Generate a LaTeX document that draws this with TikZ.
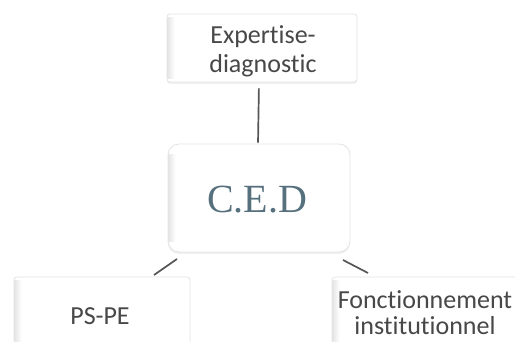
\documentclass[tikz,border=0pt]{standalone}
\usepackage{fontspec}
\setmainfont{Carlito}[Ligatures={NoCommon,NoRare,NoDiscretionary}]
\newfontfamily\cedfont{Liberation Serif}
\usetikzlibrary{shadows}
\definecolor{txt}{HTML}{484848}
\definecolor{cedc}{HTML}{56707E}
\definecolor{lnc}{HTML}{555555}
\tikzset{
  box/.style={draw=gray!22, line width=0.8pt, fill=white, inner sep=0pt,
    drop shadow={opacity=0.12, shadow xshift=0pt, shadow yshift=-2pt}},
  conn/.style={draw=lnc, line width=1.7pt},
  edge/.style={left color=gray!20, right color=white},
  lbl/.style={text=txt, font=\fontsize{26}{29}\selectfont, align=center, inner sep=0pt}
}
\begin{document}
\begin{tikzpicture}[x=1pt,y=-1pt]
\useasboundingbox (0,0) rectangle (515,342);
\begin{scope}
\clip (0,0) rectangle (515,342);
\node[box, rounded corners=3pt, minimum width=190pt, minimum height=68pt] (top) at (262,48) {};
\node[box, rounded corners=11pt, minimum width=182pt, minimum height=108pt] (ced) at (259,198) {};
\node[box, rounded corners=3pt, minimum width=176pt, minimum height=86pt] (pspe) at (102,320) {};
\node[box, rounded corners=3pt, minimum width=188pt, minimum height=86pt] (fonc) at (426,320) {};
% left edge shading
\shade[edge] ([xshift=1pt,yshift=-4pt]top.north west) rectangle ([xshift=8pt,yshift=4pt]top.south west);
\shade[edge] ([xshift=1pt,yshift=-11pt]ced.north west) rectangle ([xshift=8pt,yshift=11pt]ced.south west);
\shade[edge] ([xshift=1pt,yshift=-4pt]pspe.north west) rectangle ([xshift=8pt,yshift=4pt]pspe.south west);
\shade[edge] ([xshift=1pt,yshift=-4pt]fonc.north west) rectangle ([xshift=8pt,yshift=4pt]fonc.south west);
\node[lbl] (toptxt) at (263,51) {Expertise-\\diagnostic};
\node[text=cedc, font=\cedfont\fontsize{40}{44}\selectfont, inner sep=0pt] (cedtxt) at (257,200) {C.E.D};
\node[lbl] (pspetxt) at (100,316) {PS-PE};
\node[lbl, font=\fontsize{26}{26}\selectfont] (fonctxt) at (425,313) {Fonctionnement\\institutionnel};
\end{scope}
\coordinate (l1a) at (177,259);
\coordinate (l1b) at (154,275);
\coordinate (l2a) at (343,260);
\coordinate (l2b) at (368,273);
\draw[conn, shorten <=6pt, shorten >=1pt] ([xshift=-3pt]top.south) -- ([xshift=-1pt]ced.north);
\draw[conn] (l1a) -- (l1b);
\draw[conn] (l2a) -- (l2b);
\end{tikzpicture}
\end{document}
